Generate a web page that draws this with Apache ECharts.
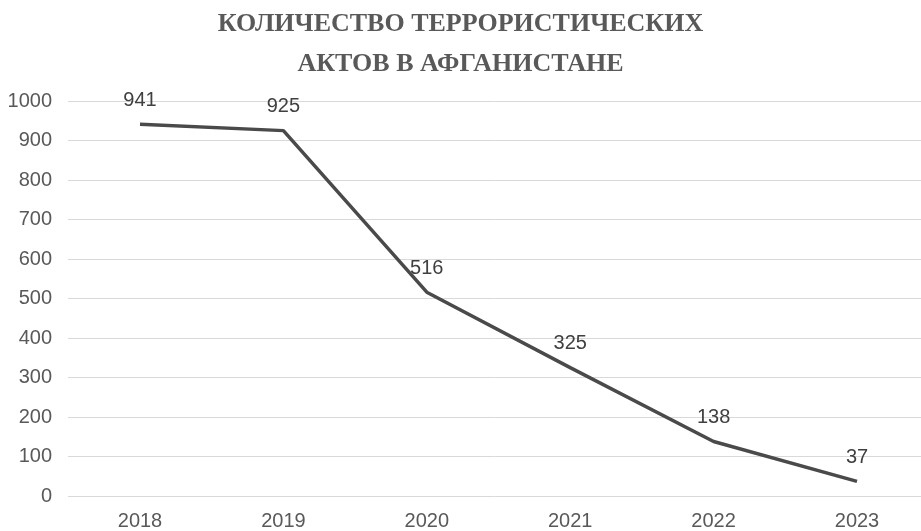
<!DOCTYPE html>
<html><head><meta charset="utf-8">
<script src="https://cdn.jsdelivr.net/npm/echarts@6/dist/echarts.min.js"></script>
<style>html,body{margin:0;padding:0;background:#fff}#c{width:921px;height:531px}</style>
</head><body><div id="c"></div>
<script>
const titleText = 'КОЛИЧЕСТВО ТЕРРОРИСТИЧЕСКИХ\nАКТОВ В АФГАНИСТАНЕ';
const years = ['2018','2019','2020','2021','2022','2023'];
const attacks = [941, 925, 516, 325, 138, 37];
const yTicks = {min: 0, max: 1000, interval: 100};
const chart = echarts.init(document.getElementById('c'));
const font = 'Liberation Sans';
chart.setOption({
  animation: false,
  title: {
    text: titleText, left: 'center', top: 4, padding: 0,
    textStyle: {fontFamily: 'Liberation Serif', fontWeight: 'bold', fontSize: 26, color: '#595959', lineHeight: 40}
  },
  grid: [
    {left: 68, top: 101, right: 0, bottom: 35},
    {left: 140, top: 101, right: 64, bottom: 35}
  ],
  xAxis: [
    {gridIndex: 0, type: 'value', min: 0, max: 1, show: false},
    {gridIndex: 1, type: 'category', data: years, boundaryGap: false,
     axisLine: {show: false}, axisTick: {show: false},
     axisLabel: {fontFamily: font, fontSize: 20, color: '#595959', margin: 15}}
  ],
  yAxis: [
    {gridIndex: 0, type: 'value', min: yTicks.min, max: yTicks.max, interval: yTicks.interval,
     axisLine: {show: false}, axisTick: {show: false},
     axisLabel: {fontFamily: font, fontSize: 20, color: '#595959', margin: 16, formatter: v => String(v)},
     splitLine: {lineStyle: {color: '#d9d9d9', width: 1}}},
    {gridIndex: 1, type: 'value', min: yTicks.min, max: yTicks.max, interval: yTicks.interval,
     axisLine: {show: false}, axisTick: {show: false}, axisLabel: {show: false}, splitLine: {show: false}}
  ],
  series: [{
    type: 'line', xAxisIndex: 1, yAxisIndex: 1, data: attacks,
    showSymbol: true, symbol: 'circle', symbolSize: 2,
    itemStyle: {color: 'rgba(0,0,0,0)'},
    lineStyle: {color: '#4a4a4a', width: 3.5},
    label: {show: true, position: 'top', distance: 13, fontFamily: font, fontSize: 20, color: '#404040'}
  }]
});
</script></body></html>
